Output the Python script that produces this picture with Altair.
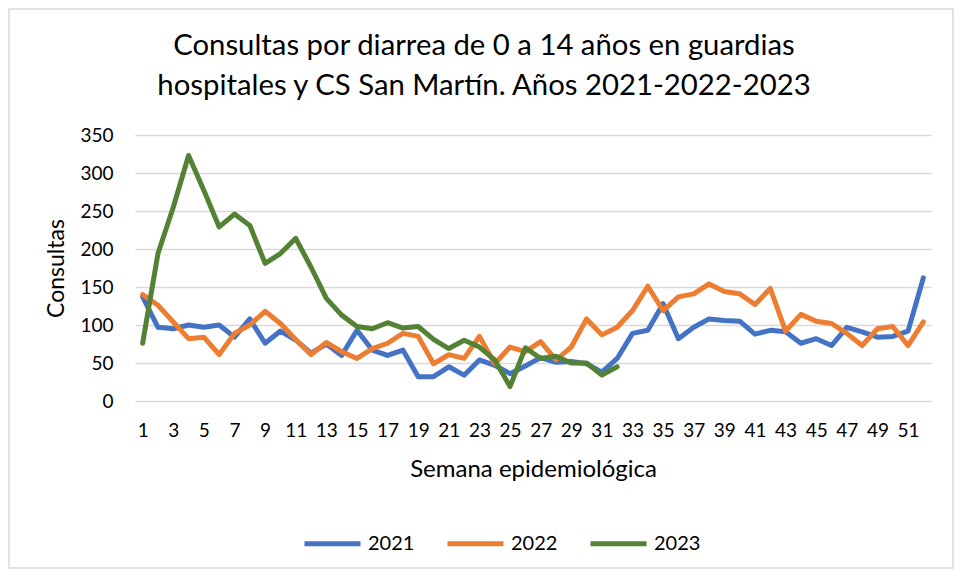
import altair as alt
import pandas as pd

weeks = list(range(1, 53))
y2021 = [137, 97, 95, 100, 97, 100, 84, 108, 76, 92, 80, 63, 75, 60, 93, 67, 60, 67,
         32, 32, 45, 34, 54, 47, 36, 46, 57, 51, 52, 49, 38, 56, 89, 93, 128, 82, 97,
         108, 106, 105, 88, 93, 91, 76, 82, 73, 97, 91, 84, 85, 92, 162]
y2022 = [140, 126, 104, 82, 84, 61, 89, 100, 118, 102, 81, 61, 77, 65, 56, 69, 76, 89,
         85, 49, 61, 56, 85, 49, 71, 65, 78, 54, 71, 108, 87, 97, 119, 151, 119, 137,
         141, 154, 144, 141, 127, 148, 92, 114, 105, 102, 89, 73, 95, 98, 73, 104]
y2023 = [76, 194, 255, 323, 277, 229, 246, 231, 181, 194, 214, 176, 135, 113, 98, 95,
         103, 96, 98, 81, 69, 80, 71, 54, 19, 70, 56, 59, 50, 50, 34, 45]
years = ["2021", "2022", "2023"]
colors = ["#4472C4", "#ED7D31", "#548235"]
x_ticks = list(range(1, 53, 2))
y_ticks = [0, 50, 100, 150, 200, 250, 300, 350]
title_line1 = "Consultas por diarrea de 0 a 14 años en guardias"
title_line2 = "hospitales y CS San Martín. Años 2021-2022-2023"

rows = []
for yr, vals in zip(years, [y2021, y2022, y2023]):
    for w, v in zip(weeks, vals):
        rows.append({"semana": w, "anio": yr, "consultas": v})
df = pd.DataFrame(rows)

FONT = "Lato"

lines = alt.Chart(df).mark_line(strokeWidth=5, strokeCap="round", strokeJoin="round").encode(
    x=alt.X("semana:Q",
            scale=alt.Scale(domain=[0.5, 52.5], nice=False, zero=False),
            axis=alt.Axis(values=x_ticks, title="Semana epidemiológica", grid=False,
                          domain=False, ticks=False, labelPadding=20,
                          labelFontSize=19, labelFont=FONT, labelColor="#000000",
                          titleFont=FONT, titleFontSize=24, titleFontWeight="normal",
                          titleColor="#000000", titlePadding=17, labelFlush=False)),
    y=alt.Y("consultas:Q",
            scale=alt.Scale(domain=[0, 350], nice=False),
            axis=alt.Axis(values=y_ticks, title="Consultas", grid=True,
                          gridColor="#D9D9D9", gridWidth=1.5, domain=False, ticks=False,
                          labelPadding=22, labelFontSize=19, labelFont=FONT,
                          labelColor="#000000", titleFont=FONT, titleFontSize=23,
                          titleFontWeight="normal", titleColor="#000000",
                          titlePadding=11)),
    color=alt.Color("anio:N",
                    scale=alt.Scale(domain=years, range=colors),
                    legend=alt.Legend(title=None, orient="none", legendX=167, legendY=378,
                                      direction="horizontal", symbolType="stroke",
                                      symbolSize=3136, symbolStrokeWidth=5,
                                      labelFont=FONT, labelFontSize=20,
                                      labelColor="#000000", columnPadding=22,
                                      labelOffset=5)),
)

base1 = alt.Chart(pd.DataFrame({"t": [title_line1]}))
base2 = alt.Chart(pd.DataFrame({"t": [title_line2]}))
t1 = base1.mark_text(font=FONT, fontSize=29.3, color="#000000", align="center",
                     baseline="alphabetic", clip=False).encode(
    text="t:N", x=alt.value(349), y=alt.value(-80))
t2 = base2.mark_text(font=FONT, fontSize=29.3, color="#000000", align="center",
                     baseline="alphabetic", clip=False).encode(
    text="t:N", x=alt.value(349), y=alt.value(-40))

border = alt.Chart(pd.DataFrame({"a": [0]})).mark_rect(
    fill=None, stroke="#D9D9D9", strokeWidth=1.5, clip=False
).encode(x=alt.value(-126), x2=alt.value(818), y=alt.value(-126), y2=alt.value(433))

chart = alt.layer(border, t1, t2, lines).properties(
    width=796, height=266,
    padding={"left": 127, "top": 127, "right": 24, "bottom": 168},
    autosize=alt.AutoSizeParams(type="none"),
).configure_view(stroke=None)

chart.save("out.html", embed_options={"renderer": "svg", "actions": False})
